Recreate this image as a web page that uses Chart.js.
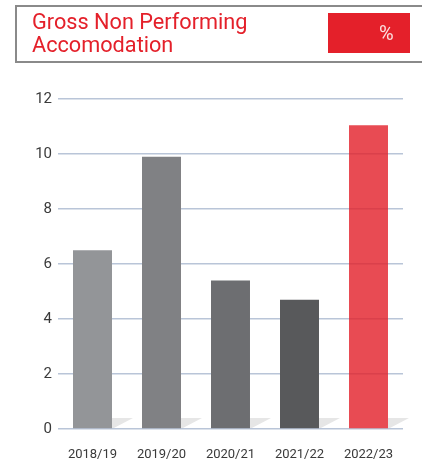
<!DOCTYPE html>
<html>
<head>
<meta charset="utf-8">
<script src="https://cdn.jsdelivr.net/npm/chart.js@4.4.0/dist/chart.umd.min.js"></script>
<style>
    html, body { margin: 0; padding: 0; background: #fff; }
    #wrap { position: relative; width: 422px; height: 461px; overflow: hidden; }
    #head {
        position: absolute; left: 15px; top: 5px; right: -10px; height: 54px;
        border: 2px solid #8a8a8a;
    }
    #title {
        position: absolute; left: 15px; top: 3px;
        font-family: Roboto, sans-serif; font-size: 21.7px; line-height: 23px;
        color: #e4202a;
    }
    #unit {
        position: absolute; left: 311px; top: 6px; width: 82px; height: 40px;
        background: #e4202a; color: #fbe0e0;
        font-family: Roboto, sans-serif; font-size: 20px; line-height: 40px;
        box-sizing: border-box; padding-left: 51px;
    }
    canvas { position: absolute; left: 0; top: 0; }
</style>
</head>
<body>
<div id="wrap">
    <canvas id="npaChart" width="422" height="461"></canvas>
    <div id="head">
        <div id="title">Gross Non Performing<br>Accomodation</div>
        <div id="unit">%</div>
    </div>
</div>
<script>
const years = ["2018/19", "2019/20", "2020/21", "2021/22", "2022/23"];
const grossNpa = [6.5, 9.9, 5.4, 4.7, 11.05];
const barColors = ['#939598', '#808184', '#6d6e71', '#58595b', 'rgba(226, 30, 40, 0.8)'];
const yTicks = [0, 2, 4, 6, 8, 10, 12];

// small slanted shadow at the foot of each bar
const barShadow = {
    id: 'barShadow',
    beforeDraw(chart) {
        const ctx = chart.ctx;
        const base = chart.scales.y.getPixelForValue(0);
        ctx.save();
        ctx.fillStyle = '#e6e6e6';
        chart.getDatasetMeta(0).data.forEach(function(bar) {
            const right = bar.x + bar.width / 2;
            ctx.beginPath();
            ctx.moveTo(right, base - 11);
            ctx.lineTo(right + 21, base - 11);
            ctx.lineTo(right, base);
            ctx.closePath();
            ctx.fill();
        });
        ctx.restore();
    }
};

const ctx = document.getElementById('npaChart').getContext('2d');
new Chart(ctx, {
    type: 'bar',
    data: {
        labels: years,
        datasets: [{
            data: grossNpa,
            backgroundColor: barColors,
            borderWidth: 0,
            barPercentage: 0.565,
            categoryPercentage: 1
        }]
    },
    options: {
        responsive: false,
        animation: false,
        layout: { padding: { top: 99, right: 19, left: 0, bottom: 0 } },
        plugins: { legend: { display: false }, tooltip: { enabled: false } },
        scales: {
            x: {
                grid: { display: false, drawTicks: false },
                border: { display: false },
                ticks: { color: '#3a3a3a', font: { family: 'Roboto', size: 13 }, padding: 18 },
                afterFit: function(s) { s.height = 32; }
            },
            y: {
                min: 0,
                max: 12,
                afterBuildTicks: function(s) { s.ticks = yTicks.map(function(v) { return { value: v }; }); },
                grid: { color: '#b9c5d8', lineWidth: 1.5, drawTicks: false },
                border: { display: false },
                ticks: { color: '#3a3a3a', font: { family: 'Roboto', size: 15 }, padding: 6 },
                afterFit: function(s) { s.width = 58; }
            }
        }
    },
    plugins: [barShadow]
});
</script>
</body>
</html>
